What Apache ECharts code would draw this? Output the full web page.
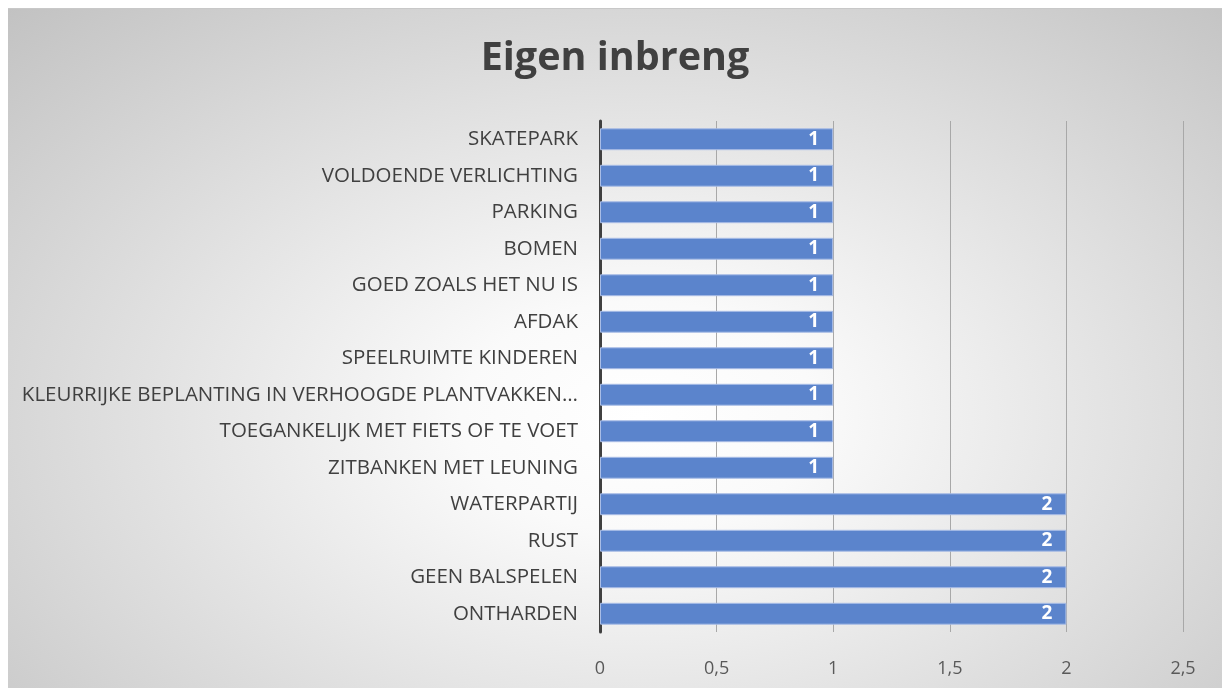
<!DOCTYPE html>
<html>
<head>
<meta charset="utf-8">
<style>
html, body { margin: 0; padding: 0; background: #fff; }
#main {
    position: absolute;
    left: 8px;
    top: 8px;
    width: 1214px;
    height: 680px;
    background: radial-gradient(ellipse farthest-corner at 52% 60%, #ffffff 0%, #fafafa 20%, #c2c2c2 100%);
    border-top: 1px solid #c8c8c8;
    box-sizing: border-box;
}
</style>
</head>
<body>
<div id="main"></div>
<script src="https://cdn.jsdelivr.net/npm/echarts@6/dist/echarts.min.js"></script>
<script>
var categories = [
    'SKATEPARK',
    'VOLDOENDE VERLICHTING',
    'PARKING',
    'BOMEN',
    'GOED ZOALS HET NU IS',
    'AFDAK',
    'SPEELRUIMTE KINDEREN',
    'KLEURRIJKE BEPLANTING IN VERHOOGDE PLANTVAKKEN…',
    'TOEGANKELIJK MET FIETS OF TE VOET',
    'ZITBANKEN MET LEUNING',
    'WATERPARTIJ',
    'RUST',
    'GEEN BALSPELEN',
    'ONTHARDEN'
];
var values = [1, 1, 1, 1, 1, 1, 1, 1, 1, 1, 2, 2, 2, 2];

var chart = echarts.init(document.getElementById('main'));

var font = '"Open Sans", "Noto Sans", sans-serif';

chart.setOption({
    backgroundColor: 'transparent',
    textStyle: { fontFamily: font },
    title: {
        text: 'Eigen inbreng',
        left: 'center',
        top: 25,
        textStyle: { fontSize: 39.5, fontWeight: 'bold', color: '#404040', fontFamily: font }
    },
    grid: { left: 592, right: 39, top: 112, bottom: 56 },
    xAxis: {
        type: 'value',
        min: 0,
        max: 2.5,
        interval: 0.5,
        axisLine: { show: false },
        axisTick: { show: false },
        splitLine: { show: true, lineStyle: { color: '#a8a8a8', width: 1 } },
        axisLabel: {
            color: '#595959',
            fontSize: 18,
            margin: 28,
            formatter: function (v) { return String(v).replace('.', ','); }
        }
    },
    yAxis: {
        type: 'category',
        inverse: true,
        data: categories,
        axisLine: { show: true, lineStyle: { color: '#404040', width: 3 } },
        axisTick: { show: false },
        axisLabel: { color: '#404040', fontSize: 20.5, margin: 22 }
    },
    series: [{
        type: 'bar',
        data: values,
        barCategoryGap: '40%',
        itemStyle: { color: '#5b84cc', borderColor: '#a9bde6', borderWidth: 1 },
        label: {
            show: true,
            position: 'insideRight',
            distance: 14,
            color: '#ffffff',
            fontWeight: 'bold',
            fontSize: 19
        }
    }]
});
</script>
</body>
</html>
